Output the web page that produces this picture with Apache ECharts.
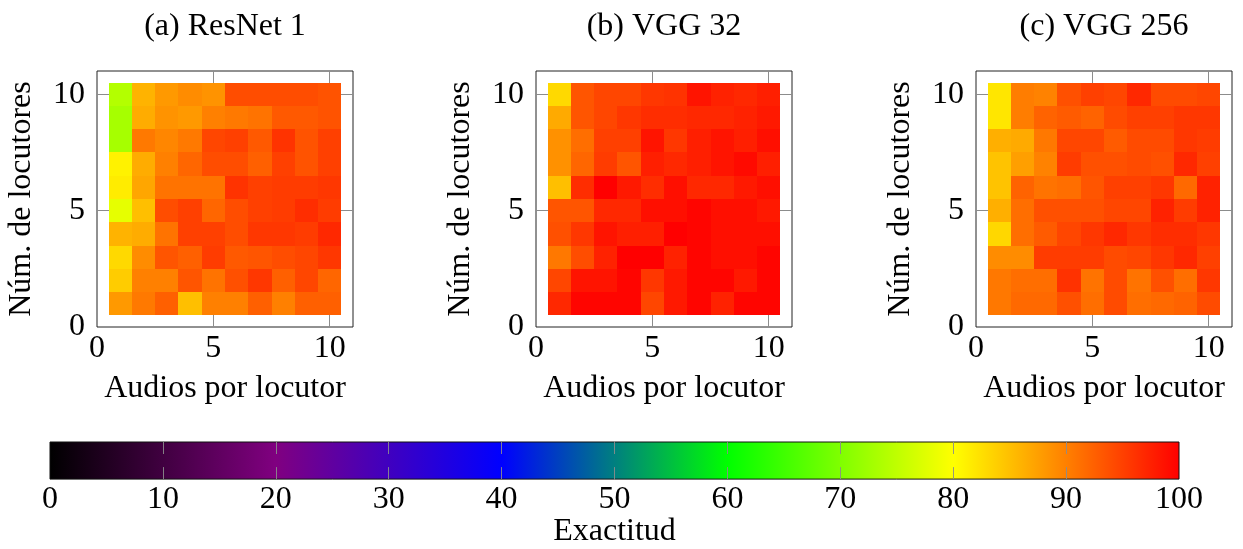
<!DOCTYPE html>
<html>
<head>
<meta charset="utf-8">
<script src="https://cdn.jsdelivr.net/npm/echarts@6/dist/echarts.min.js"></script>
<style>
html,body{margin:0;padding:0;background:#fff;}
#chart{width:1243px;height:549px;}
</style>
</head>
<body>
<div id="chart"></div>
<script>
// ---- data ----
const panelTitles = ['(a) ResNet 1', '(b) VGG 32', '(c) VGG 256'];
const audiosPorLocutor = [1, 2, 3, 4, 5, 6, 7, 8, 9, 10];      // x (columns)
const numLocutores = [10, 9, 8, 7, 6, 5, 4, 3, 2, 1];          // y (rows, top to bottom)
const axisTicks = [0, 5, 10];
const colorbarTicks = [0, 10, 20, 30, 40, 50, 60, 70, 80, 90, 100];

// Exactitud (%) per cell, rows = numLocutores order, cols = audiosPorLocutor order
const resnet1 = [
  [74, 86, 88, 89, 88.5, 94, 94, 94, 94, 93.5],
  [73, 86.5, 88.5, 88, 90, 90.5, 91, 93, 93, 93.5],
  [73, 90.5, 89.5, 90.5, 94.5, 95, 93, 96, 93.5, 95],
  [81, 86.5, 90, 92, 94, 94, 92.5, 95, 93.5, 95],
  [81.5, 87, 91, 91, 91, 96, 95, 95.3, 95.3, 95.7],
  [78, 85, 94, 95, 92, 94, 95, 95.3, 96.5, 95.3],
  [86, 86.5, 91, 95, 95, 94, 95.7, 95.7, 95.3, 96.9],
  [83, 89, 93.3, 92.5, 95.3, 93, 93.3, 94, 94.5, 95.7],
  [84, 90, 90, 93.3, 91, 93.7, 95.7, 92.5, 94.5, 92],
  [88, 90.5, 92.5, 85, 90, 90, 92.5, 90, 92.5, 92.5]
];
const vgg32 = [
  [83, 93.3, 94.5, 94.5, 95.7, 96, 98.4, 97.3, 96.9, 97.6],
  [86.7, 93.3, 94.5, 95.7, 96.5, 96.5, 96.9, 96.9, 97.3, 98],
  [88.6, 91.4, 95, 95, 98.4, 95.7, 97.6, 98.4, 97.6, 98.8],
  [88.6, 92, 95.3, 93.3, 97.6, 96.9, 97.6, 98.4, 99.2, 97.6],
  [85, 96.5, 100, 98, 96.5, 98.8, 96.9, 96.9, 98, 98.8],
  [93.3, 93.3, 96.9, 96.9, 98.8, 98.8, 99.6, 98.8, 98.8, 98],
  [93.7, 95.7, 98.4, 97.6, 97.6, 100, 99.6, 98.8, 98.8, 98.8],
  [90.6, 94, 97.3, 100, 100, 97.3, 99.6, 98.8, 98.8, 99.6],
  [94.5, 98.4, 98.4, 99.6, 95.7, 98, 99.6, 99.6, 98, 99.6],
  [96.9, 99.6, 99.6, 99.6, 94.5, 98, 99.6, 97.3, 99.6, 99.6]
];
const vgg256 = [
  [82, 90.2, 89.8, 93.7, 95, 94.5, 96.9, 94.1, 94.1, 94.5],
  [82, 90.2, 92.2, 92.9, 92.2, 94.1, 95, 95, 95.7, 95.7],
  [86.3, 86.7, 90.6, 94.5, 94.5, 92.9, 94.1, 94.1, 95.7, 95.3],
  [84.7, 87.5, 89.8, 95.3, 93.7, 93.7, 94.1, 93.7, 96.9, 95],
  [84.7, 92.2, 91, 91.4, 93.3, 95, 95, 95.7, 91.8, 97.3],
  [86.3, 91.4, 93.7, 93.7, 93.7, 94.5, 94.5, 97.3, 95.3, 97.3],
  [83.1, 91.4, 92.9, 94.5, 95.7, 96.9, 95.7, 96.5, 96.5, 95.7],
  [89, 89, 95.3, 95.3, 95.3, 94.1, 94.5, 95.7, 96.9, 95],
  [90.6, 91.4, 91.4, 96.1, 91, 94.1, 91, 93.7, 91.4, 95.7],
  [90.6, 91.8, 91.8, 93.7, 91.4, 94.1, 91.4, 91.8, 92.2, 94.1]
];
const colormap = ['#000000', '#800080', '#0000ff', '#00ff00', '#ffff00', '#ff0000'];

// ---- build ----
const FONT = "'Liberation Serif', 'DejaVu Serif', serif";
const panels = [resnet1, vgg32, vgg256];
const gridLefts = [97, 536, 976];
const GRID_TOP = 71, GRID_W = 256, GRID_H = 256;

function toCells(matrix) {
  const out = [];
  numLocutores.forEach((y, r) => {
    audiosPorLocutor.forEach((x, c) => { out.push([x, y, matrix[r][c]]); });
  });
  return out;
}

function cellItem(params, api) {
  const x = api.value(0), y = api.value(1);
  const a = api.coord([x - 0.5, y + 0.5]);
  const b = api.coord([x + 0.5, y - 0.5]);
  const x0 = Math.round(a[0]), y0 = Math.round(a[1]);
  const x1 = Math.round(b[0]), y1 = Math.round(b[1]);
  return {
    type: 'rect',
    shape: { x: x0, y: y0, width: x1 - x0, height: y1 - y0 },
    style: { fill: api.visual('color') }
  };
}

function colorbarItem(params, api) {
  const a = api.coord([colorbarTicks[0], 1]);
  const b = api.coord([colorbarTicks[colorbarTicks.length - 1], 0]);
  const stops = colormap.map((c, i) => ({ offset: i / (colormap.length - 1), color: c }));
  return {
    type: 'rect',
    shape: { x: a[0], y: a[1], width: b[0] - a[0], height: b[1] - a[1] },
    style: {
      fill: new echarts.graphic.LinearGradient(0, 0, 1, 0, stops),
      stroke: '#111', lineWidth: 1
    }
  };
}

const grids = [], xAxes = [], yAxes = [], series = [], titles = [];
const labelStyle = { fontFamily: FONT, fontSize: 32, color: '#000' };

panels.forEach((m, i) => {
  grids.push({ left: gridLefts[i], top: GRID_TOP, width: GRID_W, height: GRID_H,
    show: true, borderColor: '#222', borderWidth: 1, backgroundColor: 'transparent' });
  titles.push({ text: panelTitles[i], left: gridLefts[i] + GRID_W / 2, top: 11, textAlign: 'center',
    padding: 0, textStyle: { fontFamily: FONT, fontSize: 32, fontWeight: 'normal', color: '#000' } });
  xAxes.push({
    gridIndex: i, type: 'value', min: 0, max: 11, interval: 5,
    axisLine: { show: false }, axisTick: { show: false },
    splitLine: { show: true, showMinLine: false, showMaxLine: false, lineStyle: { color: '#8c8c8c', width: 1 } },
    axisLabel: Object.assign({ margin: 6, showMaxLabel: false,
      formatter: v => axisTicks.indexOf(v) >= 0 ? String(v) : '' }, labelStyle),
    name: 'Audios por locutor', nameLocation: 'middle', nameGap: 46, nameTextStyle: labelStyle
  });
  yAxes.push({
    gridIndex: i, type: 'value', min: 0, max: 11, interval: 5,
    axisLine: { show: false }, axisTick: { show: false },
    splitLine: { show: true, showMinLine: false, showMaxLine: false, lineStyle: { color: '#8c8c8c', width: 1 } },
    axisLabel: Object.assign({ margin: 12, showMaxLabel: false,
      formatter: v => axisTicks.indexOf(v) >= 0 ? String(v) : '' }, labelStyle),
    name: 'Núm. de locutores', nameLocation: 'middle', nameGap: 59, nameTextStyle: labelStyle
  });
  series.push({
    type: 'custom', xAxisIndex: i, yAxisIndex: i,
    renderItem: cellItem, data: toCells(m),
    encode: { x: 0, y: 1 }, dimensions: ['x', 'y', 'v'], z: 3, silent: true
  });
});

// colorbar
grids.push({ left: 50, top: 442, width: 1129, height: 39 });
xAxes.push({
  gridIndex: 3, type: 'value', min: 0, max: 100, interval: 10, position: 'bottom', z: 10,
  axisLine: { show: false },
  axisTick: { show: true, inside: true, length: 12, customValues: colorbarTicks.slice(1, -1),
    lineStyle: { color: 'rgba(140,140,140,0.9)', width: 1 } },
  splitLine: { show: false },
  axisLabel: Object.assign({ margin: 4 }, labelStyle),
  name: 'Exactitud', nameLocation: 'middle', nameGap: 33, nameTextStyle: labelStyle
});
xAxes.push({
  gridIndex: 3, type: 'value', min: 0, max: 100, interval: 10, position: 'top', z: 10,
  axisLine: { show: false },
  axisTick: { show: true, inside: true, length: 12, customValues: colorbarTicks.slice(1, -1),
    lineStyle: { color: 'rgba(140,140,140,0.9)', width: 1 } },
  splitLine: { show: false }, axisLabel: { show: false }
});
yAxes.push({ gridIndex: 3, type: 'value', min: 0, max: 1, show: false });
series.push({
  type: 'custom', xAxisIndex: 3, yAxisIndex: 3, renderItem: colorbarItem,
  data: [[0, 0]], z: 2, silent: true
});

const option = {
  backgroundColor: '#fff',
  animation: false,
  title: titles,
  grid: grids,
  xAxis: xAxes,
  yAxis: yAxes,
  visualMap: {
    type: 'continuous', show: false, min: 0, max: 100, dimension: 2,
    seriesIndex: [0, 1, 2], inRange: { color: colormap }
  },
  series: series
};

const chart = echarts.init(document.getElementById('chart'), null, { renderer: 'canvas' });
chart.setOption(option);
</script>
</body>
</html>
